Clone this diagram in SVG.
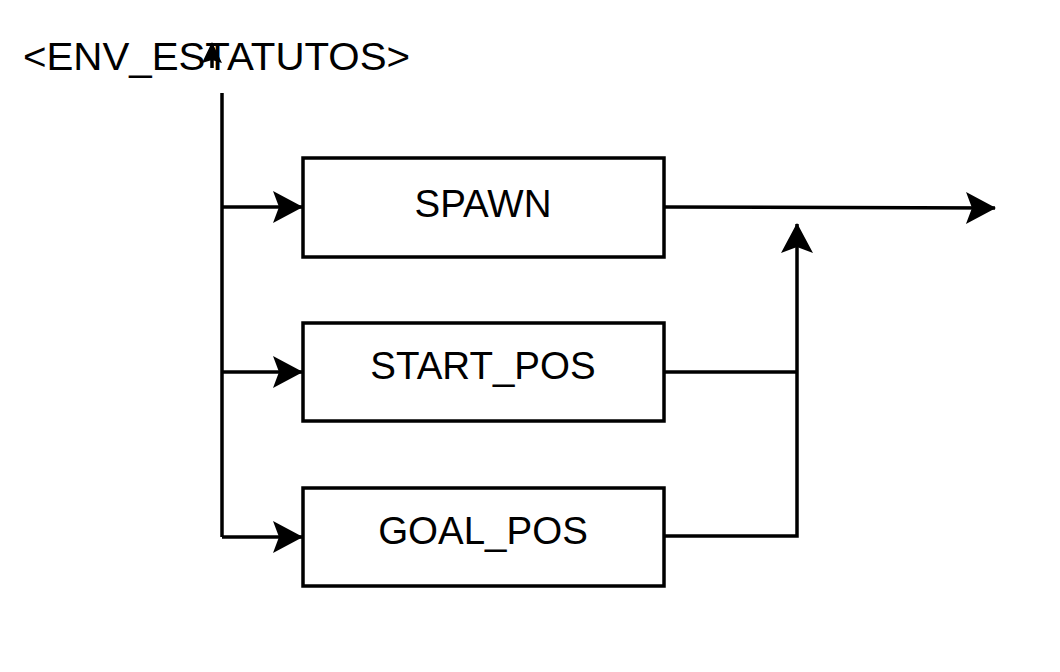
<svg xmlns="http://www.w3.org/2000/svg" width="1060" height="672" viewBox="0 0 1060 672">
<style>
.box{fill:#fff;stroke:#000;stroke-width:3.5}
.ln{fill:none;stroke:#000;stroke-width:3.5}
.lbl{font-family:"Liberation Sans",Arial,sans-serif;font-size:38.5px;fill:#000;text-anchor:middle}
.hd{font-family:"Liberation Sans",Arial,sans-serif;font-size:39.5px;fill:#000}
</style>
<defs>
<marker id="ah" markerWidth="32" markerHeight="34" viewBox="0 0 32 34" refX="30" refY="17" orient="auto" markerUnits="userSpaceOnUse">
<path d="M31,17 L1,1 L7,17 L1,33 Z" fill="#000"/>
</marker>
</defs>
<rect width="1060" height="672" fill="#fff"/>
<g id="header">
<text class="hd" x="23" y="70" textLength="387" lengthAdjust="spacingAndGlyphs">&lt;ENV_ESTATUTOS&gt;</text>
</g>
<g id="spawn">
<rect class="box" x="303" y="158" width="361" height="99"/>
<text class="lbl" x="483" y="217">SPAWN</text>
</g>
<g id="start_pos">
<rect class="box" x="303" y="323" width="361" height="98"/>
<text class="lbl" x="483" y="379">START_POS</text>
</g>
<g id="goal_pos">
<rect class="box" x="303" y="488" width="361" height="98"/>
<text class="lbl" x="483" y="544">GOAL_POS</text>
</g>
<g id="connectors">
<path class="ln" d="M212,68 L212,55"/>
<path d="M212,42 L222,63 L212,60 L202,63 Z" fill="#000"/>
<path class="ln" d="M222,93 L222,537"/>
<path class="ln" d="M222,207 L302,207" marker-end="url(#ah)"/>
<path class="ln" d="M222,372 L302,372" marker-end="url(#ah)"/>
<path class="ln" d="M222,537 L302,537" marker-end="url(#ah)"/>
<path class="ln" d="M665,207 L995,208" marker-end="url(#ah)"/>
<path class="ln" d="M665,372 L797,372"/>
<path class="ln" d="M665,536 L797,536 L797,224" marker-end="url(#ah)"/>
</g>
</svg>
